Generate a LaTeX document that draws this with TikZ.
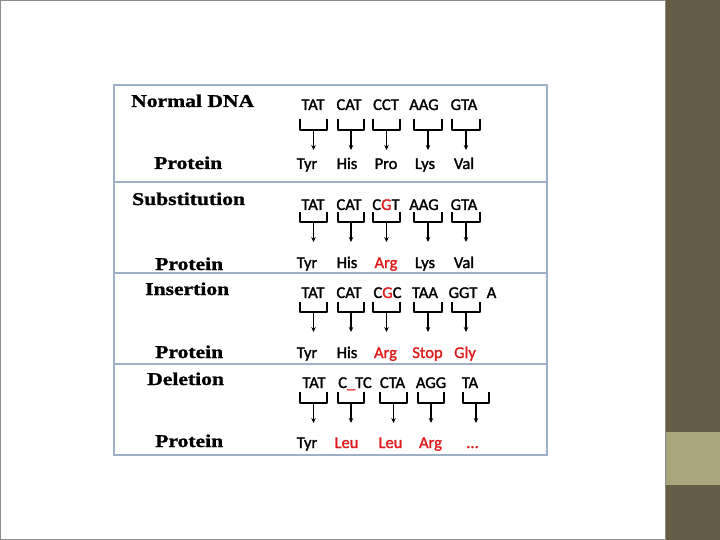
\documentclass[tikz,border=0pt]{standalone}
\usepackage{fontspec}
\usepackage{graphicx}
\usetikzlibrary{arrows.meta}
\setmainfont{Liberation Serif}
\newfontfamily\cf[FakeBold=1.6]{Carlito}
\newfontfamily\lf[FakeStretch=1.2,FakeBold=1.2]{Liberation Serif}
\definecolor{bar}{RGB}{101,93,70}
\definecolor{barlight}{RGB}{169,166,126}
\definecolor{boxline}{RGB}{158,176,200}
\definecolor{mutred}{RGB}{222,30,30}
\pgfdeclareradialshading{panelshade}{\pgfpoint{0bp}{0bp}}{color(0bp)=(white); color(35bp)=(white); color(50bp)=(black!6); color(71bp)=(black!20)}
\tikzset{
  lbl/.style={anchor=base west, inner sep=0pt, font=\lf\bfseries\fontsize{18}{20}\selectfont},
  cod/.style={anchor=base, inner sep=0pt, font=\cf\fontsize{16.5}{18}\selectfont},
  bk/.style={line width=1.6pt, line join=round},
  ar/.style={line width=1.5pt, -{Stealth[length=5pt,width=4.5pt]}},
  rule/.style={boxline, line width=1.5pt}
}
% bracket: x1, x2, ytop, ybot, ytip, name
\newcommand{\brk}[6]{%
  \draw[bk] (#1,#3) -- (#1,#4) -- (#2,#4) -- (#2,#3);
  \coordinate (#6b) at ({(#1+#2)/2},#4);
  \coordinate (#6t) at ({(#1+#2)/2},#5);
  \draw[ar] (#6b) -- (#6t);}
\begin{document}
\begin{tikzpicture}[x=1pt,y=-1pt]
\useasboundingbox (0,0) rectangle (720,540);
% background
\shade[shading=panelshade] (0,0) rectangle (666,540);
\draw[black!45, line width=1.2pt] (0.6,0.6) rectangle (665.4,539.4);
\fill[bar] (666,0) rectangle (720,540);
\fill[barlight] (666,432) rectangle (720,485);
% box
\fill[white] (114,85) rectangle (547,455);
\draw[rule] (114,85) rectangle (547,455);
\draw[rule] (114,182) -- (547,182);
\draw[rule] (114,273) -- (547,273);
\draw[rule] (114,364) -- (547,364);
% labels
\node[lbl] (l1) at (131,107) {Normal DNA};
\node[lbl] (p1) at (154,169) {Protein};
\node[lbl] (l2) at (132,205) {Substitution};
\node[lbl] (p2) at (155,270) {Protein};
\node[lbl] (l3) at (145,295) {Insertion};
\node[lbl] (p3) at (155,358) {Protein};
\node[lbl] (l4) at (147,385) {Deletion};
\node[lbl] (p4) at (155,447) {Protein};
% row 1
\node[cod] (c11) at (313,110) {TAT};
\node[cod] (c12) at (349,110) {CAT};
\node[cod] (c13) at (386,110) {CCT};
\node[cod] (c14) at (424,110) {AAG};
\node[cod] (c15) at (464,110) {GTA};
\brk{300}{327}{119}{130}{150}{r11}
\brk{338}{364}{119}{130}{150}{r12}
\brk{373}{400}{119}{130}{150}{r13}
\brk{414}{442}{119}{130}{150}{r14}
\brk{452}{480}{119}{130}{150}{r15}
\node[cod] (a11) at (307,169) {Tyr};
\node[cod] (a12) at (347,169) {His};
\node[cod] (a13) at (386,169) {Pro};
\node[cod] (a14) at (425,169) {Lys};
\node[cod] (a15) at (464,169) {Val};
% row 2
\node[cod] (c21) at (313,210) {TAT};
\node[cod] (c22) at (349,210) {CAT};
\node[cod] (c23) at (386,210) {C\textcolor{mutred}{G}T};
\node[cod] (c24) at (424,210) {AAG};
\node[cod] (c25) at (464,210) {GTA};
\brk{300}{327}{212}{222}{242}{r21}
\brk{338}{364}{212}{222}{242}{r22}
\brk{373}{400}{212}{222}{242}{r23}
\brk{414}{442}{212}{222}{242}{r24}
\brk{452}{480}{212}{222}{242}{r25}
\node[cod] (a21) at (307,268) {Tyr};
\node[cod] (a22) at (347,268) {His};
\node[cod, mutred] (a23) at (386,268) {Arg};
\node[cod] (a24) at (425,268) {Lys};
\node[cod] (a25) at (464,268) {Val};
% row 3
\node[cod] (c31) at (313,298) {TAT};
\node[cod] (c32) at (349,298) {CAT};
\node[cod] (c33) at (387.5,298) {C\textcolor{mutred}{G}C};
\node[cod] (c34) at (425,298) {TAA};
\node[cod] (c35) at (463,298) {GGT};
\node[cod] (c36) at (491.5,298) {A};
\brk{300}{327}{302}{312}{332}{r31}
\brk{338}{364}{302}{312}{332}{r32}
\brk{373}{400}{302}{312}{332}{r33}
\brk{414}{442}{302}{312}{332}{r34}
\brk{452}{480}{302}{312}{332}{r35}
\node[cod] (a31) at (307,358) {Tyr};
\node[cod] (a32) at (347,358) {His};
\node[cod, mutred] (a33) at (385.5,358) {Arg};
\node[cod, mutred] (a34) at (427.5,358) {Stop};
\node[cod, mutred] (a35) at (465,358) {Gly};
% row 4
\node[cod] (c41) at (314,388) {TAT};
\node[cod] (c42) at (355,388) {C\textcolor{mutred}{\_}TC};
\node[cod] (c43) at (392.5,388) {CTA};
\node[cod] (c44) at (431,388) {AGG};
\node[cod] (c45) at (470,388) {TA};
\brk{300}{327}{392}{403}{423}{r41}
\brk{338}{364}{392}{403}{423}{r42}
\brk{380}{407}{392}{403}{423}{r43}
\brk{418}{444}{392}{403}{423}{r44}
\brk{463}{489}{392}{403}{423}{r45}
\node[cod] (a41) at (307,448) {Tyr};
\node[cod, mutred] (a42) at (346.5,448) {Leu};
\node[cod, mutred] (a43) at (390.5,448) {Leu};
\node[cod, mutred] (a44) at (430.5,448) {Arg};
\node[cod, mutred] (a45) at (472.5,448) {\ldots};
\end{tikzpicture}
\end{document}
